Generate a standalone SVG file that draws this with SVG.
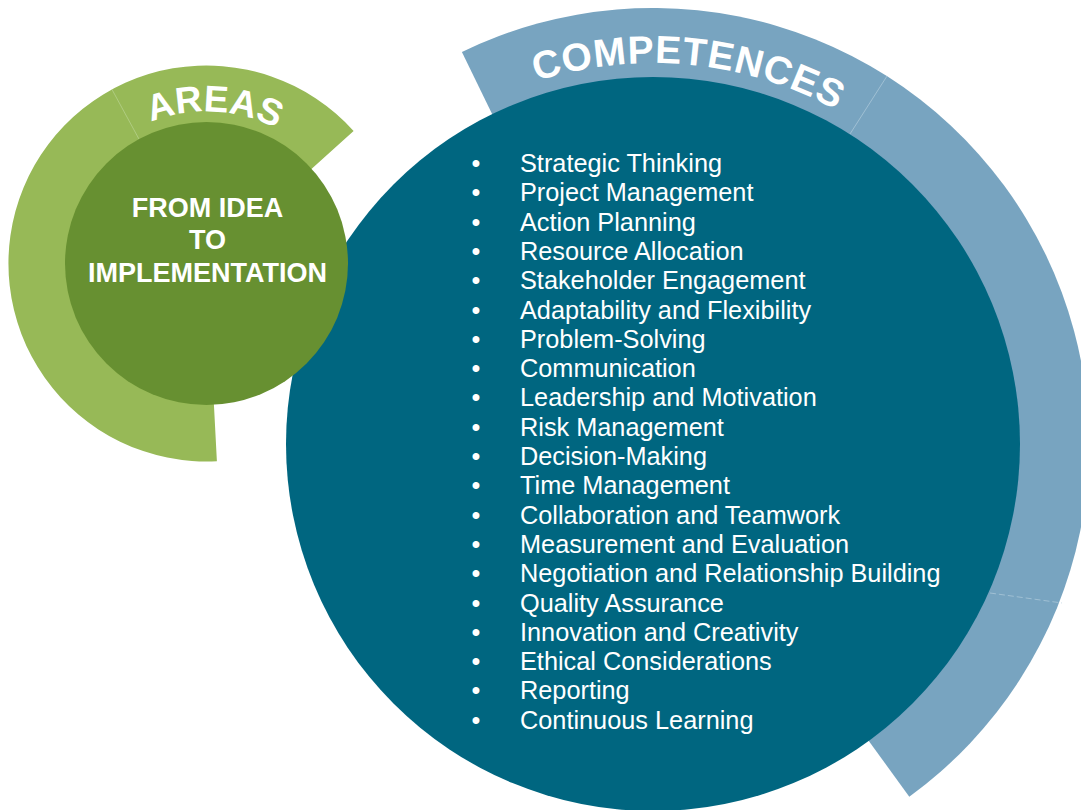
<svg xmlns="http://www.w3.org/2000/svg" width="1081" height="810" viewBox="0 0 1081 810">
  <style>
    .ring-blue { fill: #78a4c0; }
    .core-blue { fill: #006680; }
    .ring-green { fill: #97b957; }
    .core-green { fill: #679031; }
    .sep { stroke: #a9c6d8; stroke-width: 0.8; fill: none; }
    .sep-g { stroke: #b5d08a; stroke-width: 0.8; fill: none; }
    .arc-title { font-family: "Liberation Sans", Arial, sans-serif; font-weight: bold; fill: #ffffff; }
    .core-title { font-family: "Liberation Sans", Arial, sans-serif; font-weight: bold; font-size: 27px; fill: #ffffff; text-anchor: middle; }
    .item { font-family: "Liberation Sans", Arial, sans-serif; font-size: 25.3px; fill: #ffffff; }
    .bullet { font-family: "Liberation Sans", Arial, sans-serif; font-size: 25.3px; fill: #ffffff; text-anchor: middle; }
  </style>
  <defs>
    <!-- baseline arcs for the curved headings -->
    <path id="competencesArc" d="M 309.1 280 A 381 381 0 0 1 1021.8 348.6"/>
    <path id="areasArc" d="M 66.6 204.1 A 152 152 0 0 1 351.9 219.1"/>
  </defs>

  <!-- Competences: outer ring segment, then the core disc -->
  <g id="competences">
    <path class="ring-blue" d="M 653 444 L 461.9 52.1 A 436 436 0 0 1 909.3 796.7 Z"/>
    <line class="sep" x1="850" y1="134" x2="887" y2="76"/>
    <line class="sep" x1="990" y1="593" x2="1062" y2="603" stroke-dasharray="6 3"/>
    <circle class="core-blue" cx="653" cy="444" r="367"/>
    <text class="arc-title" font-size="39" letter-spacing="0.8">
      <textPath href="#competencesArc" startOffset="50%" text-anchor="middle">COMPETENCES</textPath>
    </text>
    <g id="competence-list">
      <text class="bullet" x="476" y="172">•</text><text class="item" x="520" y="172">Strategic Thinking</text>
      <text class="bullet" x="476" y="201.3">•</text><text class="item" x="520" y="201.3">Project Management</text>
      <text class="bullet" x="476" y="230.6">•</text><text class="item" x="520" y="230.6">Action Planning</text>
      <text class="bullet" x="476" y="259.9">•</text><text class="item" x="520" y="259.9">Resource Allocation</text>
      <text class="bullet" x="476" y="289.2">•</text><text class="item" x="520" y="289.2">Stakeholder Engagement</text>
      <text class="bullet" x="476" y="318.5">•</text><text class="item" x="520" y="318.5">Adaptability and Flexibility</text>
      <text class="bullet" x="476" y="347.8">•</text><text class="item" x="520" y="347.8">Problem-Solving</text>
      <text class="bullet" x="476" y="377.1">•</text><text class="item" x="520" y="377.1">Communication</text>
      <text class="bullet" x="476" y="406.4">•</text><text class="item" x="520" y="406.4">Leadership and Motivation</text>
      <text class="bullet" x="476" y="435.7">•</text><text class="item" x="520" y="435.7">Risk Management</text>
      <text class="bullet" x="476" y="465">•</text><text class="item" x="520" y="465">Decision-Making</text>
      <text class="bullet" x="476" y="494.3">•</text><text class="item" x="520" y="494.3">Time Management</text>
      <text class="bullet" x="476" y="523.6">•</text><text class="item" x="520" y="523.6">Collaboration and Teamwork</text>
      <text class="bullet" x="476" y="552.9">•</text><text class="item" x="520" y="552.9">Measurement and Evaluation</text>
      <text class="bullet" x="476" y="582.2">•</text><text class="item" x="520" y="582.2">Negotiation and Relationship Building</text>
      <text class="bullet" x="476" y="611.5">•</text><text class="item" x="520" y="611.5">Quality Assurance</text>
      <text class="bullet" x="476" y="640.8">•</text><text class="item" x="520" y="640.8">Innovation and Creativity</text>
      <text class="bullet" x="476" y="670.1">•</text><text class="item" x="520" y="670.1">Ethical Considerations</text>
      <text class="bullet" x="476" y="699.4">•</text><text class="item" x="520" y="699.4">Reporting</text>
      <text class="bullet" x="476" y="728.7">•</text><text class="item" x="520" y="728.7">Continuous Learning</text>
    </g>
  </g>

  <!-- Areas: green ring segment with its core disc on top -->
  <g id="areas">
    <path class="ring-green" d="M 206.5 263.5 L 216.9 461.2 A 198 198 0 1 1 353.6 131 Z"/>
    <line class="sep-g" x1="139" y1="139.1" x2="112" y2="89.5"/>
    <circle class="core-green" cx="206.5" cy="263.5" r="141.5"/>
    <text class="arc-title" font-size="37">
      <textPath href="#areasArc" startOffset="50%" text-anchor="middle">AREAS</textPath>
    </text>
    <text class="core-title" x="207.5" y="217">FROM IDEA</text>
    <text class="core-title" x="207.5" y="249">TO</text>
    <text class="core-title" x="207.5" y="282">IMPLEMENTATION</text>
  </g>
</svg>
